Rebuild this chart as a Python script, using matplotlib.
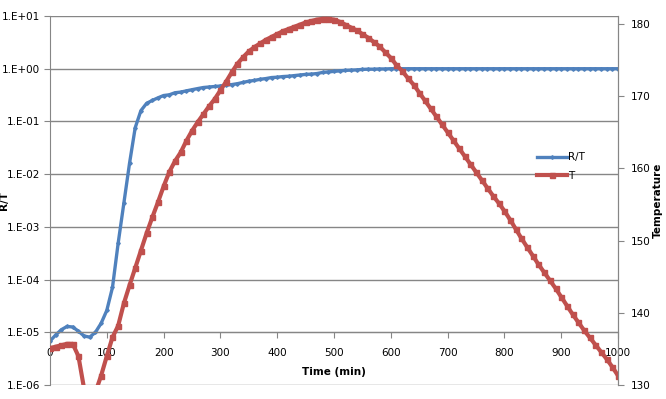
import matplotlib
matplotlib.use('Agg')
import matplotlib.pyplot as plt
from matplotlib.ticker import FixedLocator, FuncFormatter
import numpy as np

plt.rcParams['font.family'] = ['DejaVu Sans']

# time axis (min), one reading every 10 minutes
time_min = list(range(0, 1001, 10))

# R/T ratio (left, log scale)
rt = [6.8e-6, 8.9e-6, 1.12e-5, 1.29e-5, 1.26e-5, 1.05e-5, 8.5e-6, 8.1e-6, 1.0e-5, 1.48e-5,
      2.6e-5, 7.1e-5, 4.9e-4, 2.8e-3, 1.6e-2, 7.6e-2, 0.16, 0.22, 0.25, 0.28,
      0.31, 0.32, 0.35, 0.36, 0.38, 0.40, 0.42, 0.44, 0.45, 0.46,
      0.47, 0.49, 0.50, 0.52, 0.55, 0.58, 0.60, 0.63, 0.65, 0.68,
      0.69, 0.71, 0.72, 0.74, 0.76, 0.78, 0.79, 0.81, 0.85, 0.87,
      0.89, 0.91, 0.93, 0.94, 0.95, 0.97, 0.98, 0.98, 0.99, 0.99,
      1.0, 1.0, 1.0, 1.0, 1.0, 1.0, 1.0, 1.0, 1.0, 1.0,
      1.0, 1.0, 1.0, 1.0, 1.0, 1.0, 1.0, 1.0, 1.0, 1.0,
      1.0, 1.0, 1.0, 1.0, 1.0, 1.0, 1.0, 1.0, 1.0, 1.0,
      1.0, 1.0, 1.0, 1.0, 1.0, 1.0, 1.0, 1.0, 1.0, 1.0,
      1.0]

# temperature (right axis)
temp = [135.1, 135.3, 135.5, 135.7, 135.7, 134.0, 129.5, 128.3, 129.0, 131.3,
        134.0, 136.6, 138.2, 141.3, 143.8, 146.2, 148.6, 151.0, 153.2, 155.3,
        157.5, 159.5, 161.0, 162.2, 163.8, 165.2, 166.4, 167.5, 168.6, 169.6,
        170.8, 172.0, 173.3, 174.5, 175.4, 176.2, 176.8, 177.3, 177.8, 178.2,
        178.6, 179.0, 179.3, 179.6, 179.9, 180.2, 180.4, 180.6, 180.7, 180.7,
        180.6, 180.3, 179.9, 179.5, 179.1, 178.6, 178.1, 177.5, 176.9, 176.1,
        175.3, 174.3, 173.5, 172.5, 171.6, 170.5, 169.4, 168.3, 167.2, 166.1,
        165.0, 163.9, 162.8, 161.7, 160.6, 159.5, 158.4, 157.3, 156.2, 155.2,
        154.1, 152.9, 151.6, 150.3, 149.1, 147.9, 146.7, 145.6, 144.5, 143.4,
        142.2, 141.0, 139.8, 138.7, 137.6, 136.6, 135.6, 134.6, 133.6, 132.5,
        131.3]

x_ticks = list(range(0, 1001, 100))
rt_ticks = [1e-6, 1e-5, 1e-4, 1e-3, 1e-2, 1e-1, 1e0, 1e1]
temp_ticks = [130, 140, 150, 160, 170, 180]

blue = '#4F81BD'
red = '#C0504D'
grid_c = '#868686'
fs = 7.5

fig = plt.figure(figsize=(6.66, 3.99), dpi=100)
ax = fig.add_axes([50 / 666, 1 - 385 / 399, 568 / 666, 369 / 399])
ax2 = ax.twinx()

l1, = ax.plot(time_min, rt, color=blue, lw=2.4, marker='D', ms=1.8,
              mec=blue, mfc=blue, label='R/T')
ax.set_yscale('log')
ax.set_ylim(1e-6, 1e1)
ax.set_xlim(0, 1000)
ax.yaxis.set_major_locator(FixedLocator(rt_ticks))
ax.yaxis.set_minor_locator(FixedLocator([]))
ax.yaxis.set_major_formatter(FuncFormatter(lambda v, p: '1.E%+03d' % int(round(np.log10(v)))))
ax.set_xticks(x_ticks)
ax.grid(axis='y', color=grid_c, lw=1)
ax.set_axisbelow(True)

# x axis crosses at 1E-05 like in Excel
ax.spines['bottom'].set_position(('data', 1e-5))
ax.spines['top'].set_visible(False)
for s in ['bottom', 'left', 'right']:
    ax.spines[s].set_color(grid_c)
ax.tick_params(axis='both', colors=grid_c, labelcolor='black', labelsize=fs,
               direction='out', length=4, pad=3)
ax.tick_params(axis='x', pad=7)
ax.set_xlabel('Time (min)', fontsize=fs, fontweight='bold', labelpad=7)
ax.set_ylabel('R/T', fontsize=fs, fontweight='bold')
ax.yaxis.set_label_coords(-0.072, 0.5)

l2, = ax2.plot(time_min, temp, color=red, lw=3, marker='s', ms=3.6,
               mec=red, mfc=red, label='T')
ax2.set_ylim(130, 181.1)
ax2.yaxis.set_major_locator(FixedLocator(temp_ticks))
for s in ['top', 'bottom', 'left']:
    ax2.spines[s].set_visible(False)
ax2.spines['right'].set_color(grid_c)
ax2.tick_params(axis='y', colors=grid_c, labelcolor='black', labelsize=fs,
                direction='out', length=4, pad=5)
ax2.set_ylabel('Temperature', fontsize=fs, fontweight='bold')
ax2.yaxis.set_label_coords(1.062, 0.5)

fig.legend(handles=[l1, l2], loc='upper left',
           bbox_to_anchor=(528 / 666, 1 - 143 / 399),
           frameon=False, fontsize=fs, handlelength=2.8, handletextpad=0.1,
           labelspacing=0.8)

fig.savefig('out.png', dpi=100)
